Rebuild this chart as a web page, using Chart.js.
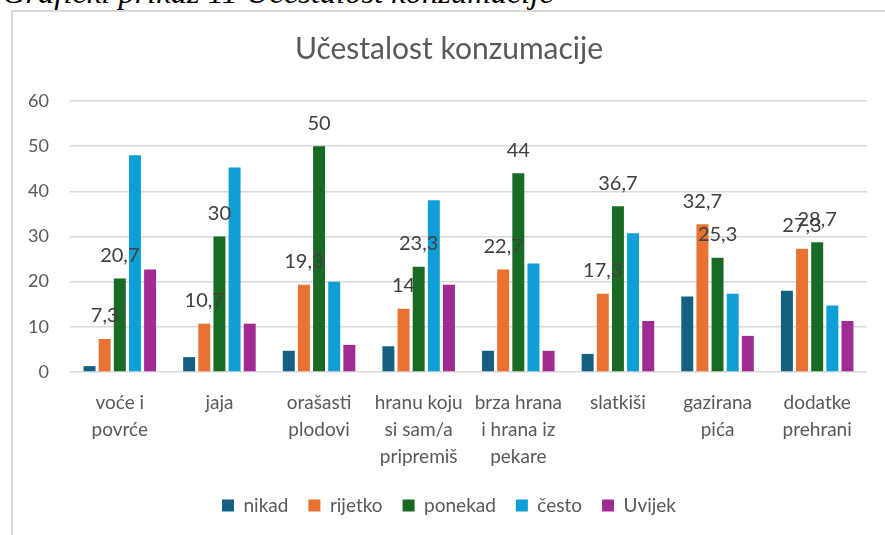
<!DOCTYPE html>
<html>
<head>
<meta charset="utf-8">
<script src="https://cdn.jsdelivr.net/npm/chart.js@4"></script>
<style>
  body { margin: 0; background: #fff; width: 885px; height: 535px; overflow: hidden; position: relative; }
  #caption { position: absolute; left: 2px; top: -24px; font: italic 32.5px/33px "Liberation Serif", serif; color: #000; white-space: nowrap; }
  #box { position: absolute; left: 11px; top: 10px; width: 874px; height: 525px; border-left: 2px solid #d9d9d9; border-top: 2px solid #d9d9d9; }
  #wrap { position: absolute; left: 0; top: 0; width: 872px; height: 523px; }
</style>
</head>
<body>
<div id="caption">Grafički prikaz 11 Učestalost konzumacije</div>
<div id="box"><div id="wrap"><canvas id="chart"></canvas></div></div>
<script>
const categories = [
  ['voće i', 'povrće'],
  ['jaja'],
  ['orašasti', 'plodovi'],
  ['hranu koju', 'si sam/a', 'pripremiš'],
  ['brza hrana', 'i hrana iz', 'pekare'],
  ['slatkiši'],
  ['gazirana', 'pića'],
  ['dodatke', 'prehrani']
];
const nikad   = [1.3, 3.3, 4.7, 5.7, 4.7, 4, 16.7, 18];
const rijetko = [7.3, 10.7, 19.3, 14, 22.7, 17.3, 32.7, 27.3];
const ponekad = [20.7, 30, 50, 23.3, 44, 36.7, 25.3, 28.7];
const cesto   = [48, 45.3, 20, 38, 24, 30.7, 17.3, 14.7];
const uvijek  = [22.7, 10.7, 6, 19.3, 4.7, 11.3, 8, 11.3];
const yTicks = [0, 10, 20, 30, 40, 50, 60];

const font = '"Lato", "Noto Sans", sans-serif';

// labels only on the "rijetko" and "ponekad" series, like the original
const valueLabels = {
  id: 'valueLabels',
  afterDatasetsDraw(chart) {
    const ctx = chart.ctx;
    ctx.save();
    ctx.font = '20px ' + font;
    ctx.fillStyle = '#404040';
    ctx.textAlign = 'center';
    ctx.textBaseline = 'middle';
    [1, 2].forEach(i => {
      const meta = chart.getDatasetMeta(i);
      meta.data.forEach((bar, j) => {
        const v = chart.data.datasets[i].data[j];
        ctx.fillText(String(v).replace('.', ','), bar.x, bar.y - 23);
      });
    });
    ctx.restore();
  }
};

const ctx = document.getElementById('chart').getContext('2d');
new Chart(ctx, {
  type: 'bar',
  data: {
    labels: categories,
    datasets: [
      { label: 'nikad', data: nikad, backgroundColor: '#156082' },
      { label: 'rijetko', data: rijetko, backgroundColor: '#e97132' },
      { label: 'ponekad', data: ponekad, backgroundColor: '#196b24' },
      { label: 'često', data: cesto, backgroundColor: '#0f9ed5' },
      { label: 'Uvijek', data: uvijek, backgroundColor: '#a02b93' }
    ]
  },
  options: {
    responsive: true,
    maintainAspectRatio: false,
    animation: false,
    datasets: {
      bar: { categoryPercentage: 0.76, barPercentage: 0.79 }
    },
    layout: { padding: { left: 0, right: 0, top: 0, bottom: 10 } },
    plugins: {
      title: {
        display: true,
        text: 'Učestalost konzumacije',
        color: '#595959',
        font: { family: font, size: 30, weight: 'normal', lineHeight: 1.2 },
        padding: { top: 19, bottom: 34 }
      },
      legend: {
        position: 'bottom',
        labels: {
          color: '#595959',
          font: { family: font, size: 19 },
          boxWidth: 12,
          boxHeight: 12,
          padding: 20
        }
      },
      tooltip: { enabled: false }
    },
    scales: {
      x: {
        grid: { display: false },
        border: { display: false },
        ticks: {
          color: '#595959',
          font: { family: font, size: 19, lineHeight: 1.4 },
          padding: 10,
          maxRotation: 0,
          autoSkip: false
        },
        afterFit(scale) { scale.height = 104; }
      },
      y: {
        min: 0,
        max: 60,
        afterBuildTicks(scale) { scale.ticks = yTicks.map(v => ({ value: v })); },
        grid: { color: '#d9d9d9', lineWidth: 1.5, drawTicks: false },
        border: { display: false },
        ticks: {
          color: '#595959',
          font: { family: font, size: 18 },
          padding: 21
        },
        afterFit(scale) { scale.width = 57; }
      },
      // empty right-hand axis: keeps the plot clear of the right edge
      yRight: {
        position: 'right',
        display: true,
        grid: { display: false },
        border: { display: false },
        ticks: { display: false },
        afterFit(scale) { scale.width = 18; }
      }
    }
  },
  plugins: [valueLabels]
});
</script>
</body>
</html>
